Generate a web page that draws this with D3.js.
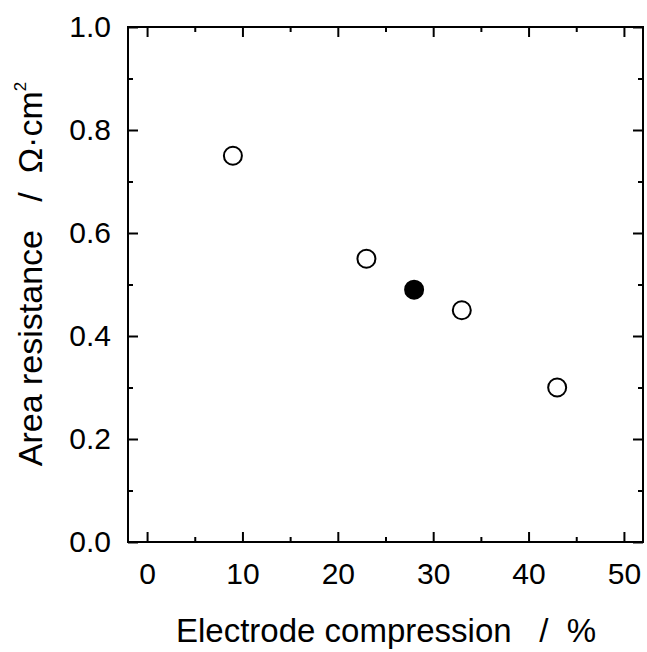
<!DOCTYPE html>
<html>
<head>
<meta charset="utf-8">
<script src="https://cdn.jsdelivr.net/npm/d3@7"></script>
<style>
  body { margin: 0; background: #fff; }
  svg { display: block; }
</style>
</head>
<body>
<div id="chart"></div>
<script>
// data
const compression = [9, 23, 28, 33, 43];
const resistance = [0.75, 0.55, 0.49, 0.45, 0.30];
const filled = [false, false, true, false, false];
const xTicks = [0, 10, 20, 30, 40, 50];
const yTicks = [0.0, 0.2, 0.4, 0.6, 0.8, 1.0];

const width = 647;
const height = 652;
const marginTop = 27;
const marginRight = 4;
const marginBottom = 110;
const marginLeft = 128;
const font = "'Liberation Sans', Arial, sans-serif";

const x = d3.scaleLinear()
    .domain([-2, 52])
    .range([marginLeft, width - marginRight]);

const y = d3.scaleLinear()
    .domain([0, 1])
    .range([height - marginBottom, marginTop]);

const svg = d3.select("#chart").append("svg")
    .attr("width", width)
    .attr("height", height)
    .attr("viewBox", [0, 0, width, height])
    .attr("font-family", font);

const xMinor = d3.range(5, 50, 10);
const yMinor = d3.range(0.1, 1, 0.2);

// petite fonction pour styler les axes
function styleAxis(g) {
    g.select(".domain").remove();
    g.attr("font-family", font);
    g.selectAll("line").attr("stroke-width", 2);
    g.selectAll("text").attr("font-size", 30).attr("fill", "#000");
}

// bottom axis
svg.append("g")
    .attr("transform", `translate(0,${height - marginBottom})`)
    .call(d3.axisBottom(x).tickValues(xTicks).tickSize(-10).tickPadding(21).tickFormat(d3.format("d")))
    .call(styleAxis);
svg.append("g")
    .attr("transform", `translate(0,${height - marginBottom})`)
    .call(d3.axisBottom(x).tickValues(xMinor).tickSize(-5).tickFormat(""))
    .call(styleAxis);

// top axis (mirror ticks)
svg.append("g")
    .attr("transform", `translate(0,${marginTop})`)
    .call(d3.axisTop(x).tickValues(xTicks).tickSize(-10).tickFormat(""))
    .call(styleAxis);
svg.append("g")
    .attr("transform", `translate(0,${marginTop})`)
    .call(d3.axisTop(x).tickValues(xMinor).tickSize(-5).tickFormat(""))
    .call(styleAxis);

// left axis
svg.append("g")
    .attr("transform", `translate(${marginLeft},0)`)
    .call(d3.axisLeft(y).tickValues(yTicks).tickSize(-10).tickPadding(17).tickFormat(d3.format(".1f")))
    .call(styleAxis);
svg.append("g")
    .attr("transform", `translate(${marginLeft},0)`)
    .call(d3.axisLeft(y).tickValues(yMinor).tickSize(-5).tickFormat(""))
    .call(styleAxis);

// right axis (mirror ticks)
svg.append("g")
    .attr("transform", `translate(${width - marginRight},0)`)
    .call(d3.axisRight(y).tickValues(yTicks).tickSize(-10).tickFormat(""))
    .call(styleAxis);
svg.append("g")
    .attr("transform", `translate(${width - marginRight},0)`)
    .call(d3.axisRight(y).tickValues(yMinor).tickSize(-5).tickFormat(""))
    .call(styleAxis);

// frame
svg.append("rect")
    .attr("x", marginLeft)
    .attr("y", marginTop)
    .attr("width", width - marginRight - marginLeft)
    .attr("height", height - marginBottom - marginTop)
    .attr("fill", "none")
    .attr("stroke", "#000")
    .attr("stroke-width", 2);

// points
svg.append("g")
    .selectAll("circle")
    .data(compression.map((c, i) => ({c, r: resistance[i], f: filled[i]})))
    .join("circle")
    .attr("cx", d => x(d.c))
    .attr("cy", d => y(d.r))
    .attr("r", 9)
    .attr("fill", d => d.f ? "#000" : "#fff")
    .attr("stroke", "#000")
    .attr("stroke-width", 2);

// axis labels
svg.append("text")
    .attr("x", 386)
    .attr("y", 642)
    .attr("text-anchor", "middle")
    .attr("font-size", 33)
    .attr("xml:space", "preserve")
    .text("Electrode compression   /  %");

const yl = svg.append("text")
    .attr("transform", `translate(42,274) rotate(-90)`)
    .attr("text-anchor", "middle")
    .attr("font-size", 34)
    .attr("xml:space", "preserve");
yl.append("tspan").text("Area resistance   /  Ω·cm");
yl.append("tspan").attr("font-size", 17).attr("dy", -16).text("2");
</script>
</body>
</html>
